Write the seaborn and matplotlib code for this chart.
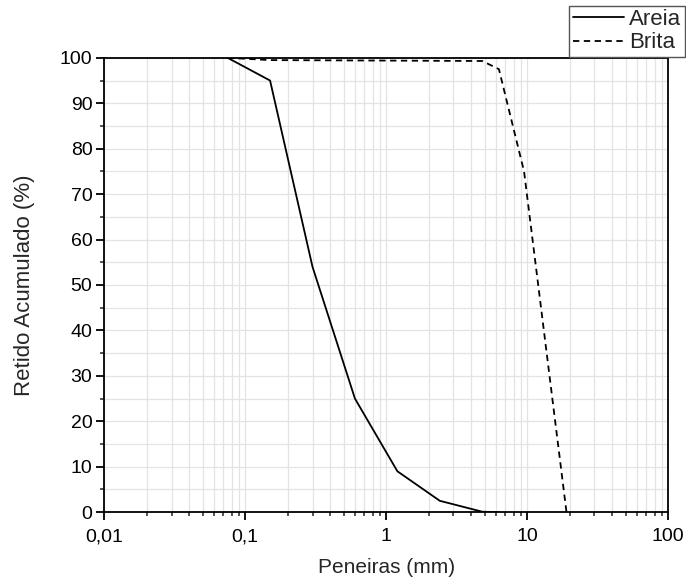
import matplotlib
matplotlib.use("Agg")
import matplotlib.pyplot as plt
import matplotlib.ticker as mticker
import numpy as np
import pandas as pd
import seaborn as sns

# sieve openings (mm) and cumulative retained (%)
areia_mm = [0.075, 0.15, 0.3, 0.6, 1.2, 2.4, 4.8, 6.3]
areia_ret = [100, 95, 54, 25, 9, 2.5, 0.1, 0]

brita_mm = [0.075, 0.15, 4.8, 6.3, 9.5, 19]
brita_ret = [100, 99.5, 99.3, 97.5, 75, 0]

x_ticks = [0.01, 0.1, 1, 10, 100]
x_labels = ["0,01", "0,1", "1", "10", "100"]

sns.set_style("white")
plt.rcParams["font.family"] = ["Liberation Sans", "DejaVu Sans"]

df = pd.concat([
    pd.DataFrame({"mm": areia_mm, "ret": areia_ret, "serie": "Areia"}),
    pd.DataFrame({"mm": brita_mm, "ret": brita_ret, "serie": "Brita"}),
])

fig = plt.figure(figsize=(6.86, 5.84), dpi=100)
ax = fig.add_axes([0.152, 0.123, 0.822, 0.778])

sns.lineplot(data=df, x="mm", y="ret", style="serie", color="black",
             dashes={"Areia": "", "Brita": (3.5, 2.5)}, linewidth=1.3,
             sort=False, estimator=None, ax=ax, legend=False)

ax.set_xscale("log")
ax.set_xlim(0.01, 100)
ax.set_ylim(0, 100)
ax.set_xticks(x_ticks)
ax.set_xticklabels(x_labels)
ax.xaxis.set_minor_locator(mticker.LogLocator(base=10, subs=np.arange(2, 10)))
ax.xaxis.set_minor_formatter(mticker.NullFormatter())
ax.set_yticks(np.arange(0, 101, 10))
ax.yaxis.set_minor_locator(mticker.MultipleLocator(5))

ax.grid(True, which="both", color="#e3e3e3", linewidth=0.9)
ax.set_axisbelow(True)

for s in ax.spines.values():
    s.set_color("black")
    s.set_linewidth(1.3)

ax.tick_params(axis="both", which="major", direction="out", length=5.5, width=1.3,
               labelsize=14, colors="black", bottom=True, left=True)
ax.tick_params(axis="x", which="major", pad=6)
ax.tick_params(axis="y", which="major", pad=3)
ax.tick_params(axis="both", which="minor", direction="out", length=3.2, width=1.1,
               bottom=True, left=True)

ax.set_xlabel("Peneiras (mm)", fontsize=15, labelpad=9)
ax.set_ylabel("Retido Acumulado (%)", fontsize=16, labelpad=18)

handles = [
    plt.Line2D([], [], color="black", linewidth=1.3, linestyle="-"),
    plt.Line2D([], [], color="black", linewidth=1.3, linestyle=(0, (3.5, 2.5))),
]
fig.legend(handles, ["Areia", "Brita"], loc="upper left",
           bbox_to_anchor=(0.83, 0.99), fontsize=16, frameon=True,
           fancybox=False, edgecolor="#555555", framealpha=1,
           handlelength=2.3, handletextpad=0.25, borderpad=0.15,
           labelspacing=0.1, borderaxespad=0)

fig.savefig("out.png", dpi=100)
